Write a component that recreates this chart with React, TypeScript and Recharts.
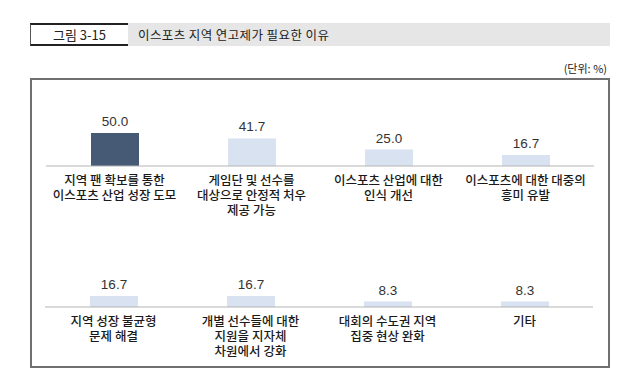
import { Bar, BarChart, Cell, LabelList, XAxis, YAxis } from "recharts";

// 이스포츠 지역 연고제가 필요한 이유 (단위: %)
const categories = [
  "지역 팬 확보를 통한\n이스포츠 산업 성장 도모",
  "게임단 및 선수를\n대상으로 안정적 처우\n제공 가능",
  "이스포츠 산업에 대한\n인식 개선",
  "이스포츠에 대한 대중의\n흥미 유발",
  "지역 성장 불균형\n문제 해결",
  "개별 선수들에 대한\n지원을 지자체\n차원에서 강화",
  "대회의 수도권 지역\n집중 현상 완화",
  "기타",
];
const values = [50.0, 41.7, 25.0, 16.7, 16.7, 16.7, 8.3, 8.3];
const highlightIndex = 0;

const FONT = "'Noto Sans CJK KR', 'Noto Sans', sans-serif";
const DARK = "#475a75";
const LIGHT = "#d8e2f1";

function CategoryTick({ x, y, payload }: any) {
  const lines = String(payload.value).split("\n");
  // one <text> per line so the lines stay separate
  return (
    <g>
      {lines.map((line, i) => (
        <text
          key={i}
          x={x}
          y={y + 19 + i * 15}
          textAnchor="middle"
          fontFamily={FONT}
          fontSize={12.5}
          fontWeight={500}
          fill="#1a1a1a"
        >
          {line}
        </text>
      ))}
    </g>
  );
}

function Row({ start }: { start: number }) {
  const data = categories.slice(start, start + 4).map((name, i) => ({
    name,
    value: values[start + i],
    color: start + i === highlightIndex ? DARK : LIGHT,
  }));
  return (
    <BarChart width={548} height={126} data={data} margin={{ top: 0, right: 0, bottom: 0, left: 0 }}>
      <YAxis hide domain={[0, 100]} />
      <XAxis
        dataKey="name"
        axisLine={{ stroke: "#b4b4b4" }}
        tickLine={false}
        tickSize={0}
        tickMargin={0}
        interval={0}
        height={60}
        tick={<CategoryTick />}
      />
      <Bar dataKey="value" barSize={48} isAnimationActive={false}>
        {data.map((d) => (
          <Cell key={d.name} fill={d.color} />
        ))}
        <LabelList
          dataKey="value"
          position="top"
          offset={7}
          formatter={(v: any) => Number(v).toFixed(1)}
          fill="#333"
          fontSize={13.5}
          fontFamily="'Liberation Sans', Arial, sans-serif"
        />
      </Bar>
    </BarChart>
  );
}

export default function App() {
  return (
    <div style={{ position: "absolute", left: 0, top: 0, width: 640, height: 388, background: "#fff", fontFamily: FONT }}>
      {/* figure header */}
      <div
        style={{
          position: "absolute",
          left: 30,
          top: 23,
          width: 98,
          height: 23,
          boxSizing: "border-box",
          borderTop: "2px solid #222",
          borderBottom: "2px solid #222",
          borderLeft: "1px solid #555",
          fontSize: 13,
          color: "#222",
          display: "flex",
          alignItems: "center",
          justifyContent: "center",
        }}
      >
        그림 3-15
      </div>
      <div
        style={{
          position: "absolute",
          left: 128,
          top: 23,
          width: 482,
          height: 23,
          background: "#e6e6e6",
          fontSize: 12.5,
          letterSpacing: 0.4,
          color: "#222",
          display: "flex",
          alignItems: "center",
          paddingLeft: 10,
          boxSizing: "border-box",
        }}
      >
        이스포츠 지역 연고제가 필요한 이유
      </div>
      <div style={{ position: "absolute", right: 33, top: 60, fontSize: 11, color: "#222" }}>(단위: %)</div>

      {/* chart frame */}
      <div
        style={{
          position: "absolute",
          left: 30,
          top: 78,
          width: 580,
          height: 290,
          boxSizing: "border-box",
          border: "2px solid #707070",
        }}
      />
      <div style={{ position: "absolute", left: 46, top: 100 }}>
        <Row start={0} />
      </div>
      <div style={{ position: "absolute", left: 45, top: 241 }}>
        <Row start={4} />
      </div>
    </div>
  );
}
